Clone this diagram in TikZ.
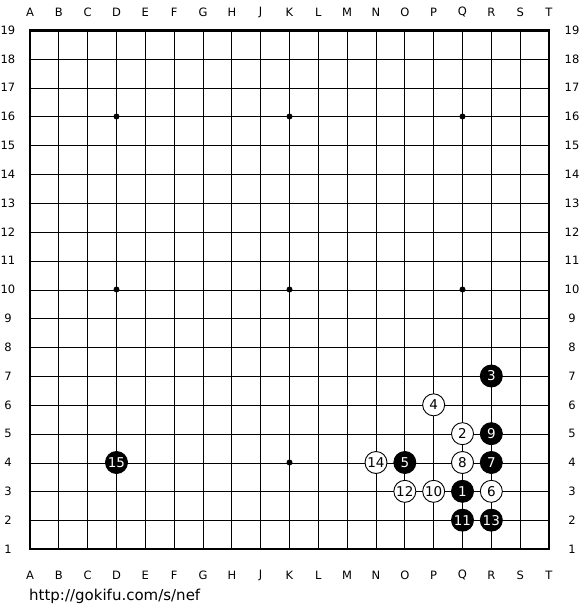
\documentclass[tikz,border=0pt]{standalone}
\usepackage{fontspec}
\setmainfont{DejaVu Sans}
\begin{document}
\begin{tikzpicture}[x=1pt,y=-1pt,
  lbl/.style={font=\fontsize{11.5}{13}\selectfont, inner sep=0pt},
  bstone/.style={circle, fill=black, draw=black, line width=0.9pt, minimum size=22pt, inner sep=0pt, text=white, font=\fontsize{13.5}{15}\selectfont},
  wstone/.style={circle, fill=white, draw=black, line width=0.9pt, minimum size=22pt, inner sep=0pt, text=black, font=\fontsize{13.5}{15}\selectfont},
  hoshi/.style={circle, fill=black, inner sep=0pt, minimum size=6pt}]
\useasboundingbox (0,0) rectangle (580,610);
\def\sp{28.833}
% grid
\foreach \i in {1,...,17} {
  \draw[line width=1pt] ({30+\sp*\i},30.5) -- ({30+\sp*\i},549);
  \draw[line width=1pt] (30,{30.5+\sp*\i}) -- (549,{30.5+\sp*\i});
}
\draw[line width=2.2pt] (30,30.5) rectangle (549,549);
% labels
\foreach \l [count=\i from 0] in {A,B,C,D,E,F,G,H,J,K,L,M,N,O,P,Q,R,S,T} {
  \node[lbl] (top\l) at ({30+\sp*\i},12) {\l};
  \node[lbl] (bot\l) at ({30+\sp*\i},575) {\l};
}
\foreach \r in {1,...,19} {
  \node[lbl] (left\r) at (8,{549-\sp*(\r-1)}) {\r};
  \node[lbl] (right\r) at (572,{549-\sp*(\r-1)}) {\r};
}
% hoshi
\foreach \c/\r [count=\k] in {3/4,9/4,15/4,3/10,9/10,15/10,3/16,9/16,15/16} {
  \node[hoshi] (h\k) at ({30+\sp*\c},{549-\sp*(\r-1)}) {};
}
% stones
\foreach \c/\r/\n/\s in {15/3/1/b,15/5/2/w,16/7/3/b,14/6/4/w,13/4/5/b,16/3/6/w,16/4/7/b,15/4/8/w,16/5/9/b,14/3/10/w,15/2/11/b,13/3/12/w,16/2/13/b,12/4/14/w,3/4/15/b} {
  \node[\s stone] (s\n) at ({30+\sp*\c},{549-\sp*(\r-1)}) {\n};
}
\node[anchor=west, font=\fontsize{15}{17}\selectfont, inner sep=0pt] (url) at (29,596) {http://gokifu.com/s/nef};
\end{tikzpicture}
\end{document}
